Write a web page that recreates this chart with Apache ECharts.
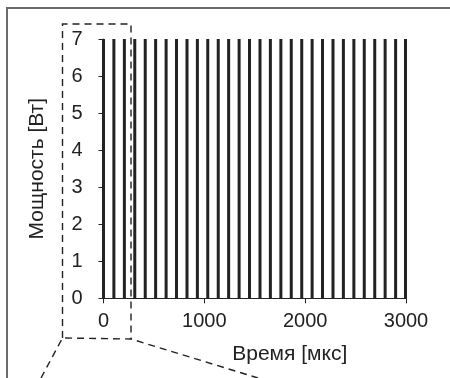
<!DOCTYPE html>
<html><head><meta charset="utf-8">
<script src="https://cdn.jsdelivr.net/npm/echarts@6/dist/echarts.min.js"></script>
<style>html,body{margin:0;padding:0;background:#fff}#c{width:450px;height:378px}</style>
</head><body><div id="c"></div>
<script>
// Pulse times (µs) and pulse power (W)
const pulseTimes = [0,103,207,310,414,517,621,724,828,931,1034,1138,1241,1345,1448,1552,1655,1759,1862,1966,2069,2172,2276,2379,2483,2586,2690,2793,2897,2995];
const pulsePower = [7,7,7,7,7,7,7,7,7,7,7,7,7,7,7,7,7,7,7,7,7,7,7,7,7,7,7,7,7,7];
const xTicks = [0,1000,2000,3000];
const yTicks = [0,1,2,3,4,5,6,7];
const xName = 'Время [мкс]';
const yName = 'Мощность [Вт]';

const font = 'Liberation Sans, Arial, sans-serif';
const chart = echarts.init(document.getElementById('c'), null, {renderer:'canvas'});
const dash = {stroke:'#222', lineWidth:1.4, lineDash:[7,5], fill:null};
chart.setOption({
  animation:false,
  backgroundColor:'#fff',
  grid:{left:103.5, right:44, top:39, bottom:79.7},
  xAxis:{type:'value', min:xTicks[0], max:xTicks[xTicks.length-1], interval:1000,
    name:xName, nameLocation:'middle', nameGap:45,
    nameTextStyle:{fontFamily:font, fontSize:21, color:'#222', padding:[0,0,0,70]},
    axisLine:{lineStyle:{color:'#222', width:1.2}},
    axisTick:{show:true, length:5, lineStyle:{color:'#222'}},
    axisLabel:{fontFamily:font, fontSize:20, color:'#222', margin:13, formatter:v=>String(v)},
    splitLine:{show:false}},
  yAxis:{type:'value', min:yTicks[0], max:yTicks[yTicks.length-1], interval:1,
    name:yName, nameLocation:'middle', nameGap:56,
    nameTextStyle:{fontFamily:font, fontSize:21, color:'#222'},
    axisLine:{show:true, lineStyle:{color:'#222', width:1.2}},
    axisTick:{show:true, length:5, lineStyle:{color:'#222'}},
    axisLabel:{fontFamily:font, fontSize:20, color:'#222', margin:21, formatter:v=>String(v)},
    splitLine:{show:false}},
  series:[{type:'bar', barWidth:3, itemStyle:{color:'#222'},
    data:pulseTimes.map((t,i)=>[t,pulsePower[i]])}],
  graphic:[
    {type:'polyline', shape:{points:[[7,378],[7,8],[450,8]]}, style:{stroke:'#6a6a6a', lineWidth:2, fill:null}, silent:true},
    {type:'polyline', shape:{points:[[62.5,338],[62.5,24],[131,24],[131,339]]}, style:dash, silent:true},
    {type:'polyline', shape:{points:[[41,378],[62.5,338],[131,339],[258,378]]}, style:dash, silent:true}
  ]
});
</script></body></html>
